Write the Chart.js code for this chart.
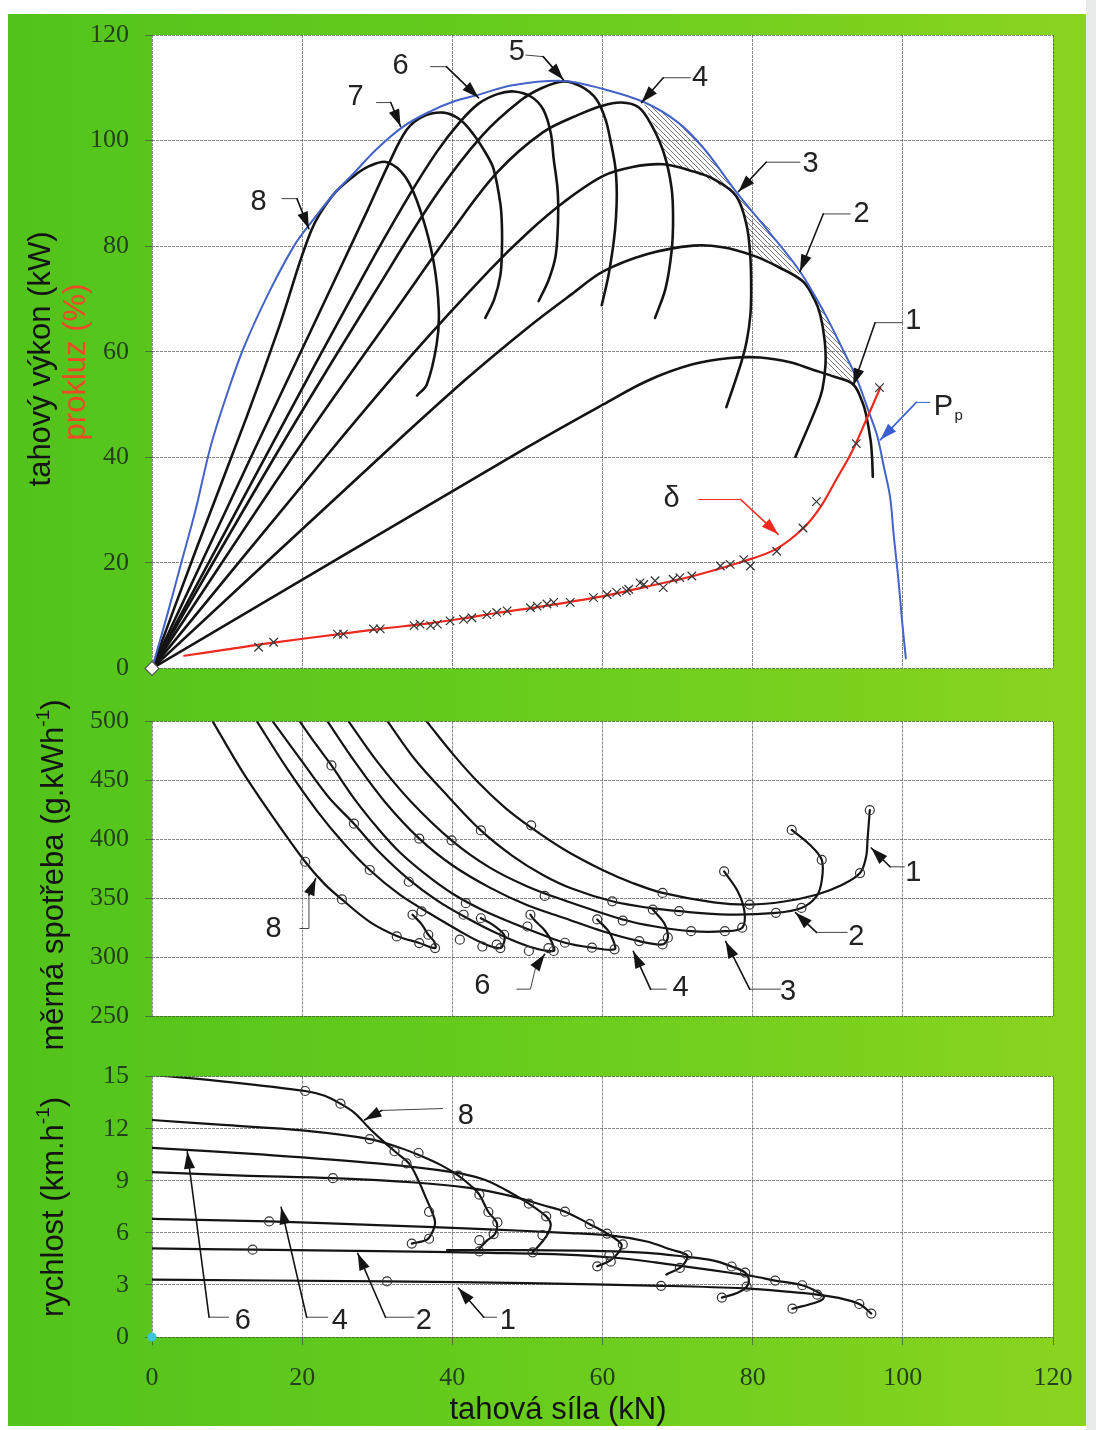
<!DOCTYPE html>
<html>
<head>
<meta charset="utf-8">
<script src="https://cdn.jsdelivr.net/npm/chart.js@4.4.1/dist/chart.umd.min.js"></script>
<style>
  html, body { margin: 0; padding: 0; background: #fff; }
  #page { position: relative; width: 1096px; height: 1430px; overflow: hidden; background: #fff; }
  #frame { position: absolute; left: 8px; top: 14px; width: 1078px; height: 1412px;
           background: linear-gradient(90deg, #52c31c 0%, #66cc1d 45%, #8ad420 100%); }
  #edge { position: absolute; left: 1086px; top: 0; width: 10px; height: 1430px; background: #e8ebe9; }
  canvas { position: absolute; left: 0; }
</style>
</head>
<body>
<div id="page">
  <div id="frame"></div>
  <div id="edge"></div>
  <canvas id="powerChart" width="1096" height="700" style="top:0px"></canvas>
  <canvas id="sfcChart" width="1096" height="360" style="top:690px"></canvas>
  <canvas id="speedChart" width="1096" height="385" style="top:1045px"></canvas>
</div>
<script>
// --- tick labels ---
const forceTicks = [0, 20, 40, 60, 80, 100, 120];
const powerTicks = [0, 20, 40, 60, 80, 100, 120];
const sfcTicks = [250, 300, 350, 400, 450, 500];
const speedTicks = [0, 3, 6, 9, 12, 15];

// --- tahový výkon (kN, kW) per gear ---
const powerG1 = [[0,0],[50,41.9],[60.1,50],[66,54.5],[72,57.6],[77,58.8],[81,58.9],[85,58],[88,56.6],[91,55.2],[93.4,53.8],[94.6,50.5],[95.1,48.1],[95.7,43.3],[95.9,40],[96,36.3]];
const powerG2 = [[0,0],[31.8,41.9],[42,55],[50,64.5],[56,71],[60.1,75.2],[66,78.5],[72.1,80.1],[76,79.8],[80.1,78.2],[83.5,76],[86.7,73.3],[88.2,70],[89,67],[89.6,62],[89.7,57.6],[89.3,53],[88.5,49.5],[85.7,40.1]];
const powerG3 = [[0,0],[24.2,41.9],[35,60],[45,75.5],[50,82.5],[55,88.5],[60.1,93.3],[64,95],[68.1,95.5],[72,94.2],[74.8,92.7],[77.8,89.5],[79.2,83.9],[79.7,77.7],[79.8,72],[79.7,67],[79.2,62],[78.4,57.6],[76.5,49.5]];
const powerG4 = [[0,0],[19.6,41.9],[33.5,70],[40,83],[46,94],[52,101.5],[57,105],[60,106.6],[62.5,107.2],[64.8,106.3],[66.5,103],[68.2,97.5],[69.2,91],[69.4,85],[69.2,79],[68.4,72],[67,66.4]];
const powerG5 = [[0,0],[17.1,41.9],[30,72],[38,90],[44,101],[49,107.5],[52,110],[54.8,111.2],[57.2,110.2],[59.2,107.8],[60.4,104],[61.1,99.7],[61.7,95],[61.9,90.3],[61.8,85.5],[61.5,80.9],[60.8,74.5],[59.9,68.8]];
const powerG6 = [[0,0],[15.8,41.9],[28,74],[34,89],[38,98],[41,103.5],[43.5,107],[46,108.8],[48.2,109.3],[50.5,108.3],[52.1,105.9],[53.1,101.5],[53.5,96.5],[54,91],[54.1,87.1],[54,82],[53.7,77.7],[52.8,73.5],[51.5,69.6]];
const powerG7 = [[0,0],[13.8,41.9],[21,63.5],[28.6,86.5],[31.5,95.5],[33.9,102],[36,104.5],[38.8,105.3],[41,104],[42.8,101.2],[44.5,97.5],[45.5,94.6],[46.4,88],[46.6,83.9],[46.6,79],[46.4,74.5],[45.6,70],[44.4,66.4]];
const powerG8 = [[0,0],[6,23],[12.6,47.6],[17,65],[21.2,82.9],[24,89.5],[26.9,93.3],[29,95.2],[31.3,95.9],[33.8,93],[35.8,86.5],[37.5,77.1],[38.2,67.7],[37.9,61.3],[36.6,53.8],[35.3,51.7]];
// obalka Pp
const powerMax = [[0,0],[2,10],[3.9,20],[5.8,30],[7.8,42],[10,52],[12.2,60.7],[15.5,71],[18.9,80],[21.2,84.5],[24,89.5],[27,94],[30,98.5],[33.5,102.7],[37,105.5],[40,107.3],[43.8,108.8],[48,110.5],[54.8,111.3],[60,109.8],[65.5,107.3],[70,103.5],[73.5,98.5],[77.8,90.3],[82,83],[86.3,75.2],[89.5,67.5],[91.8,61],[93.8,55.1],[95.5,48.5],[96.6,44],[97.5,38],[98.3,32.5],[98.8,25],[99.4,17],[99.9,9],[100.4,1.9]];
// hatched gaps between envelope and gears
const gapA = [[65.5,107.2],[67.2,101.5],[68.5,97],[69.3,95.4],[72.5,93.8],[75.5,91.6],[77.8,90.3],[75.5,95],[73,99.5],[70,103.5],[67.5,106]];
const gapB = [[77.8,90],[78.8,86],[79.3,83],[79.7,79],[82,77.3],[84.3,75.8],[86.3,74.6],[84,79.5],[81.5,84.8],[79.5,88]];
const gapC = [[86.5,74],[88.2,70],[89,67],[89.6,62],[89.7,57.4],[91,55.6],[92.5,54.6],[93.6,54.4],[92.8,58],[91.5,62],[89.8,67],[88,71.5]];

// --- prokluz (kN, %) ---
const slipCurve = [[4.3,2.4],[10,3.6],[16.2,4.9],[25.5,6.6],[30.5,7.5],[36.6,8.5],[41.1,9.4],[45.9,10.5],[52.2,11.8],[60.1,13.7],[65.9,15.5],[72.1,17.5],[78.8,20.3],[83.1,22.6],[86.7,26.5],[89,30.5],[91.1,35.7],[93.2,41],[95.1,47],[97,53.2]];
const slipPoints = [[14.2,4.0],[16.2,4.95],[24.7,6.5],[25.5,6.5],[29.5,7.5],[30.4,7.5],[34.9,8.1],[35.7,8.4],[37.1,8.1],[38,8.4],[39.7,9.0],[41.5,9.3],[42.6,9.6],[44.6,10.2],[45.9,10.6],[47.3,10.9],[50.4,11.5],[51.3,11.8],[52.6,12.2],[53.5,12.5],[55.7,12.5],[58.8,13.4],[60.6,14.0],[61.9,14.4],[63.2,14.7],[65,16.2],[63.5,15.0],[65.5,15.9],[67,16.6],[68.1,15.3],[69.4,16.9],[70.3,17.2],[71.9,17.5],[75.7,19.4],[77,19.7],[78.8,20.6],[79.7,19.4],[83.2,22.2],[86.7,26.6],[88.5,31.6],[93.8,42.6],[96.9,53.2]];

// --- měrná spotřeba (kN, g/kWh) ---
const sfcG1 = [[36.6,500],[40,473],[43.5,448],[47,427],[50.5,410],[55,391],[60,374],[64,363],[68,354.5],[74.8,346.5],[79.6,344.6],[84,347],[88.5,353],[91.8,361],[94.3,371.4],[95.1,385],[95.3,400],[95.6,424.8]];
const sfcG2 = [[31.4,500],[35,468],[39.5,436],[43.8,407.6],[48,386],[52,370],[56,358],[61.3,347.4],[66,342],[70.2,339],[76.8,336.1],[83.1,337.6],[86.5,341.8],[88.5,351.6],[89.2,365],[89.2,382.6],[87.5,396],[85.2,408]];
const sfcG3 = [[26.2,500],[30,466],[34.5,432],[39.9,399.2],[45,376],[50,360],[55,348],[62.7,332],[67,326],[71.8,322],[76.3,322],[78.6,325],[78.9,339],[78,356],[76.2,372.8]];
const sfcG4 = [[23.4,500],[27,466],[31,432],[35.6,400.6],[40,378],[45,359],[50,344],[55,333],[60,322],[64.9,313.6],[68,310.8],[68.7,316.5],[68.3,328],[66.7,340.4]];
const sfcG5 = [[19.7,500],[21.8,481],[23.9,462.8],[27,434],[30,410],[33,389],[36.5,370],[40,354],[44,340],[48,329],[52,319],[55,312.2],[58.6,308],[61.6,306.6],[61.5,313],[60.8,322],[59.3,332]];
const sfcG6 = [[16.1,500],[20,466],[23.5,436],[26.9,413.3],[30,391],[34.2,366],[38,348],[42,333],[46,320],[50.2,309],[53.5,305.2],[53.3,312],[52.4,322],[51,331],[50.4,336]];
const sfcG7 = [[14,500],[18,460],[22,424],[25.5,397],[29,374],[33,353],[37,337],[41,322],[44,312],[46.4,307.7],[46.9,313],[46.9,319],[45.5,327],[43.8,333]];
const sfcG8 = [[8.1,500],[12,458],[16,420],[20.4,381],[23,362],[25.3,349],[29,330],[32.6,318],[35.6,312],[37.7,307.7],[37.6,313],[36.8,319],[35.9,328],[34.7,336]];
const sfcPoints = [[20.4,381],[25.3,349],[32.6,317.6],[35.6,311.9],[37.7,307.7],[36.8,319],[34.7,336],[35.9,338.8],[23.9,462.8],[26.9,413.3],[29,374],[34.2,364],[35.6,400.6],[39.9,399.2],[43.8,407.6],[50.5,411.9],[41.8,345.8],[41.5,336],[43.8,333],[41,314.8],[44,309],[45.9,310.6],[46.4,307.7],[46.9,319],[50,326],[50.4,336],[50.2,305.2],[52.8,307.7],[53.5,305.2],[52.3,352],[55,312.2],[58.6,308],[61.6,306.6],[59.3,332],[61.3,347.4],[62.7,331],[64.9,313.6],[68,310.8],[68.7,316.5],[66.7,340.4],[70.2,339],[71.8,322],[76.3,322],[78.6,325],[76.2,372.8],[68,354.5],[79.6,344.6],[83.1,337.6],[86.5,341.8],[89.2,382.6],[85.2,408],[94.3,371.4],[95.6,424.8]];

// --- rychlost (kN, km/h) ---
const speedG1 = [[0,3.3],[31.3,3.2],[50,3.1],[67.8,2.95],[79,2.8],[85,2.6],[88.6,2.44],[91.5,2.25],[94.2,1.9],[95.8,1.35]];
const speedG2 = [[0,5.1],[13.4,5.03],[30,4.95],[45,4.85],[55,4.75],[62,4.55],[67,4.3],[72.1,4.0],[77,3.7],[80.1,3.5],[83,3.25],[86.6,2.98],[88.6,2.6],[89.5,2.3],[88.5,2.0],[85.3,1.63]];
const speedG3 = [[39.3,5.0],[50,5.0],[60,4.95],[66,4.85],[70.5,4.65],[74.8,4.4],[77.2,4.06],[79,3.71],[79.5,3.3],[79.2,2.9],[78,2.55],[75.9,2.27]];
const speedG4 = [[0,6.8],[15.6,6.66],[30,6.45],[45,6.2],[55,6.0],[61,5.85],[65.9,5.5],[69,5.05],[71.3,4.71],[71,4.3],[70.3,3.98],[68.5,3.6]];
const speedG5 = [[0,9.5],[12,9.3],[24.1,9.15],[35,8.9],[42,8.6],[48,8.1],[52,7.6],[55,7.22],[58.3,6.5],[60.6,5.96],[62.5,5.35],[62.2,4.9],[61,4.4],[59.3,4.07]];
const speedG6 = [[0,10.9],[15,10.5],[30,10.0],[40,9.5],[44,9.1],[47,8.5],[50.2,7.68],[52.5,6.95],[53.1,6.5],[52.8,6.0],[52,5.5],[50.7,4.88]];
const speedG7 = [[0,12.5],[10,12.2],[20,11.9],[29,11.4],[33,10.9],[36,10.4],[38.5,9.9],[40.8,9.3],[42.5,8.7],[43.6,8.2],[44.8,7.2],[45.9,6.6],[45.7,5.95],[44.6,5.55],[43.6,5.1]];
const speedG8 = [[0,15.1],[10,14.7],[20.4,14.17],[23,13.9],[25.1,13.44],[27,12.9],[29,12.0],[31,11.2],[32.6,10.6],[34.3,9.96],[35.5,9.0],[36.5,8.0],[37.3,7.2],[37.7,6.6],[37.3,6.0],[36.6,5.6],[34.6,5.38]];
const speedPoints = [[20.4,14.17],[25.1,13.44],[29,11.4],[32.3,10.7],[33.9,10.0],[35.5,10.6],[36.9,7.21],[36.9,5.66],[34.6,5.38],[40.8,9.3],[43.6,8.2],[44.8,7.2],[46,6.6],[45.5,5.93],[43.6,5.58],[43.6,4.93],[24.1,9.15],[15.6,6.66],[13.4,5.03],[31.3,3.2],[50.2,7.68],[52.5,6.95],[52,5.87],[50.7,4.88],[55,7.22],[58.3,6.5],[60.6,5.96],[62.7,5.33],[60.9,4.7],[61.1,4.34],[59.3,4.07],[71.3,4.71],[70.3,3.98],[67.8,2.95],[77.2,4.06],[79,3.71],[79.2,2.9],[75.9,2.27],[83,3.25],[86.6,2.98],[88.6,2.44],[85.3,1.63],[94.2,1.9],[95.8,1.35]];
const origin = [[0,0]];

// --- styles ---
const SANS = '"Liberation Sans", Arial, sans-serif';
const SERIF = '"Liberation Serif", "Times New Roman", serif';
const gridColor = 'rgba(60,60,60,0.6)';
const tickColor = '#23421b';
const INK = '#141414';

const pts = arr => arr.map(p => ({ x: p[0], y: p[1] }));

function curve(arr, color, width) {
  return { data: pts(arr), showLine: true, borderColor: color, borderWidth: width,
           pointRadius: 0, tension: 0.35, fill: false, borderCapStyle: 'round', order: 2 };
}
function marks(arr, style, radius, opts) {
  return Object.assign({ data: pts(arr), showLine: false, pointStyle: style, pointRadius: radius,
           pointBorderColor: '#333', pointBackgroundColor: 'rgba(0,0,0,0)', pointBorderWidth: 1.2, order: 0 }, opts || {});
}

// hatch pattern for the gaps
const hatchCanvas = document.createElement('canvas');
hatchCanvas.width = 5; hatchCanvas.height = 5;
const hc = hatchCanvas.getContext('2d');
hc.strokeStyle = '#555'; hc.lineWidth = 0.8;
hc.beginPath(); hc.moveTo(0, 0); hc.lineTo(5, 5); hc.moveTo(-1, 4); hc.lineTo(1, 6); hc.moveTo(4, -1); hc.lineTo(6, 1); hc.stroke();
const hatch = document.createElement('canvas').getContext('2d').createPattern(hatchCanvas, 'repeat');

function gap(arr) {
  return { data: pts(arr), showLine: true, borderColor: 'rgba(0,0,0,0)', borderWidth: 0, pointRadius: 0,
           tension: 0, fill: 'shape', backgroundColor: hatch, order: 5 };
}

// white plot background
const plotBg = {
  id: 'plotBg',
  beforeDraw(chart) {
    const a = chart.chartArea, ctx = chart.ctx;
    ctx.save(); ctx.fillStyle = '#fff';
    ctx.fillRect(a.left, a.top, a.right - a.left, a.bottom - a.top);
    ctx.restore();
  }
};

function drawTitle(ctx, t) {
  const big = t.size || 31, small = Math.round(big * 0.6);
  ctx.save();
  ctx.translate(t.x, t.y);
  if (t.rot !== false) ctx.rotate(-Math.PI / 2);
  let total = 0;
  t.parts.forEach(p => { ctx.font = (p[1] ? small : big) + 'px ' + SANS; total += ctx.measureText(p[0]).width; });
  let cx = -total / 2;
  ctx.textBaseline = 'middle'; ctx.textAlign = 'left';
  ctx.fillStyle = t.color || INK;
  t.parts.forEach(p => {
    ctx.font = (p[1] ? small : big) + 'px ' + SANS;
    ctx.fillText(p[0], cx, p[1] ? -big * 0.32 : 0);
    cx += ctx.measureText(p[0]).width;
  });
  ctx.restore();
}

// numbered labels with leader arrows + axis titles
const notes = {
  id: 'notes',
  afterDraw(chart, args, opts) {
    const ctx = chart.ctx, xs = chart.scales.x, ys = chart.scales.y;
    ctx.save();
    (opts.arrows || []).forEach(a => {
      const col = a.color || INK;
      const P = a.path.map(p => [xs.getPixelForValue(p[0]), ys.getPixelForValue(p[1])]);
      ctx.lineCap = 'round';
      ctx.strokeStyle = a.color || '#444'; ctx.lineWidth = 1;
      ctx.beginPath(); ctx.moveTo(P[0][0], P[0][1]);
      for (let i = 1; i < P.length - 1; i++) ctx.lineTo(P[i][0], P[i][1]);
      ctx.stroke();
      const [x1, y1] = P[P.length - 2], [x2, y2] = P[P.length - 1];
      ctx.strokeStyle = col; ctx.lineWidth = 1.6;
      ctx.beginPath(); ctx.moveTo(x1, y1); ctx.lineTo(x2, y2); ctx.stroke();
      const ang = Math.atan2(y2 - y1, x2 - x1), L = 17, W = 5.5;
      const bx = x2 - L * Math.cos(ang), by = y2 - L * Math.sin(ang);
      ctx.fillStyle = col;
      ctx.beginPath(); ctx.moveTo(x2, y2);
      ctx.lineTo(bx + W * Math.sin(ang), by - W * Math.cos(ang));
      ctx.lineTo(bx - W * Math.sin(ang), by + W * Math.cos(ang));
      ctx.closePath(); ctx.fill();
      const tx = xs.getPixelForValue(a.at[0]), ty = ys.getPixelForValue(a.at[1]);
      ctx.fillStyle = '#222'; ctx.font = '29px ' + SANS;
      ctx.textAlign = 'center'; ctx.textBaseline = 'middle';
      ctx.fillText(a.t, tx, ty);
      if (a.sub) {
        ctx.font = '15px ' + SANS; ctx.textAlign = 'left';
        ctx.fillText(a.sub, tx + 11, ty + 9);
      }
    });
    (opts.titles || []).forEach(t => drawTitle(ctx, t));
    ctx.restore();
  }
};

function options(yTicks, padTop, xHeight, showX, noteOpts) {
  return {
    responsive: false, animation: false, events: [],
    layout: { padding: { top: padTop, left: 0, right: 43, bottom: 0 } },
    plugins: { legend: { display: false }, tooltip: { enabled: false }, notes: noteOpts },
    scales: {
      x: {
        type: 'linear', min: forceTicks[0], max: forceTicks[forceTicks.length - 1],
        afterBuildTicks: s => { s.ticks = forceTicks.map(v => ({ value: v })); },
        afterFit: s => { s.height = xHeight; },
        grid: { color: gridColor, lineWidth: 1, drawTicks: showX, tickLength: 8 },
        border: { display: false, dash: [3, 1] },
        ticks: { display: showX, padding: 18, color: tickColor, font: { family: SERIF, size: 26 } }
      },
      y: {
        type: 'linear', min: yTicks[0], max: yTicks[yTicks.length - 1],
        afterBuildTicks: s => { s.ticks = yTicks.map(v => ({ value: v })); },
        afterFit: s => { s.width = 152; },
        grid: { color: gridColor, lineWidth: 1, drawTicks: true, tickLength: 7 },
        border: { display: false, dash: [3, 1] },
        ticks: { padding: 16, color: tickColor, font: { family: SERIF, size: 26 } }
      }
    }
  };
}

// --- tahový výkon + prokluz ---
new Chart(document.getElementById('powerChart'), {
  type: 'scatter',
  data: { datasets: [
    marks(origin, 'rectRot', 7, { pointBackgroundColor: '#fff', pointBorderColor: '#555', clip: false }),
    marks(slipPoints, 'crossRot', 6),
    curve(slipCurve, '#ee2a1e', 2.2),
    curve(powerMax, '#4463c8', 2),
    curve(powerG1, INK, 2.6), curve(powerG2, INK, 2.6), curve(powerG3, INK, 2.6), curve(powerG4, INK, 2.6),
    curve(powerG5, INK, 2.6), curve(powerG6, INK, 2.6), curve(powerG7, INK, 2.6), curve(powerG8, INK, 2.6),
    gap(gapA), gap(gapB), gap(gapC)
  ] },
  options: options(powerTicks, 35, 28, false, {
    arrows: [
      { t: '8', at: [14.2, 88.4], path: [[17.3, 89], [19.3, 89], [20.9, 83.3]] },
      { t: '7', at: [27.1, 108.3], path: [[29.9, 107.2], [31.8, 107.2], [33.1, 102.7]] },
      { t: '6', at: [33.1, 114.2], path: [[37.1, 114], [39.2, 114], [43.5, 108.1]] },
      { t: '5', at: [48.6, 116.8], path: [[49.8, 116.2], [52.1, 115.9], [54.8, 111.5]] },
      { t: '4', at: [73, 111.9], path: [[71.7, 111.9], [68.1, 111.9], [65.2, 107.2]] },
      { t: '3', at: [87.7, 95.5], path: [[86.3, 95.9], [81.8, 95.9], [78.1, 90.3]] },
      { t: '2', at: [94.5, 86.1], path: [[93, 86.1], [89.4, 86.1], [86.3, 75.2]] },
      { t: '1', at: [101.4, 65.8], path: [[100, 65.5], [96.3, 65.5], [93.4, 53.6]] },
      { t: 'P', sub: 'p', at: [105.4, 49.5], path: [[103.6, 50.4], [101.8, 50.4], [97, 43.3]], color: '#3a5fd0' },
      { t: 'δ', at: [69.2, 32], path: [[72.8, 32], [78.4, 32], [83.4, 25.4]], color: '#ee2a1e' }
    ],
    titles: [
      { x: 41, y: 359, parts: [['tahový výkon (kW)']] },
      { x: 76, y: 362, color: '#ee4a25', parts: [['prokluz (%)']] }
    ]
  }),
  plugins: [plotBg, notes]
});

// --- měrná spotřeba ---
new Chart(document.getElementById('sfcChart'), {
  type: 'scatter',
  data: { datasets: [
    marks(sfcPoints, 'circle', 4.5),
    curve(sfcG1, INK, 2.2), curve(sfcG2, INK, 2.2), curve(sfcG3, INK, 2.2), curve(sfcG4, INK, 2.2),
    curve(sfcG5, INK, 2.2), curve(sfcG6, INK, 2.2), curve(sfcG7, INK, 2.2), curve(sfcG8, INK, 2.2)
  ] },
  options: options(sfcTicks, 30, 34, false, {
    arrows: [
      { t: '8', at: [16.2, 324.3], path: [[19.7, 324.3], [20.9, 324.3], [20.9, 352.8], [21.8, 366.8]] },
      { t: '6', at: [44, 275.3], path: [[48.6, 272.8], [50.4, 272.8], [51.1, 291.4], [52.3, 302.4]] },
      { t: '4', at: [70.4, 273.6], path: [[68.5, 272.8], [66.4, 272.8], [64.1, 304.9]] },
      { t: '3', at: [84.7, 270.3], path: [[83.7, 272.8], [79.6, 272.8], [76.4, 313.3]] },
      { t: '2', at: [93.8, 316.7], path: [[92.6, 321], [88.5, 321], [85.7, 337.8]] },
      { t: '1', at: [101.4, 371.6], path: [[100.2, 376.7], [98.3, 376.7], [95.8, 392.7]] }
    ],
    titles: [
      { x: 54, y: 185, parts: [['měrná spotřeba (g.kWh'], ['-1', true], [')']] }
    ]
  }),
  plugins: [plotBg, notes]
});

// --- rychlost ---
new Chart(document.getElementById('speedChart'), {
  type: 'scatter',
  data: { datasets: [
    marks(origin, 'circle', 4, { pointBackgroundColor: '#3cc6d8', pointBorderColor: '#3cc6d8', clip: false }),
    marks(speedPoints, 'circle', 4.5),
    curve(speedG1, INK, 2.2), curve(speedG2, INK, 2.2), curve(speedG3, INK, 2.2), curve(speedG4, INK, 2.2),
    curve(speedG5, INK, 2.2), curve(speedG6, INK, 2.2), curve(speedG7, INK, 2.2), curve(speedG8, INK, 2.2)
  ] },
  options: options(speedTicks, 15, 93, true, {
    arrows: [
      { t: '8', at: [41.8, 12.72], path: [[38.7, 13.16], [30.6, 13.05], [28.3, 12.5]] },
      { t: '6', at: [12.1, 0.92], path: [[10.2, 1.14], [7.6, 1.14], [4.7, 10.67]] },
      { t: '4', at: [25, 0.92], path: [[23.4, 1.14], [20.6, 1.14], [17.2, 7.47]] },
      { t: '2', at: [36.2, 0.92], path: [[34.9, 1.14], [31.1, 1.14], [27.4, 4.82]] },
      { t: '1', at: [47.4, 0.92], path: [[45.9, 1.14], [44.2, 1.14], [40.8, 2.82]] }
    ],
    titles: [
      { x: 54, y: 162, parts: [['rychlost (km.h'], ['-1', true], [')']] },
      { x: 558, y: 365, rot: false, parts: [['tahová síla (kN)']] }
    ]
  }),
  plugins: [plotBg, notes]
});
</script>
</body>
</html>
